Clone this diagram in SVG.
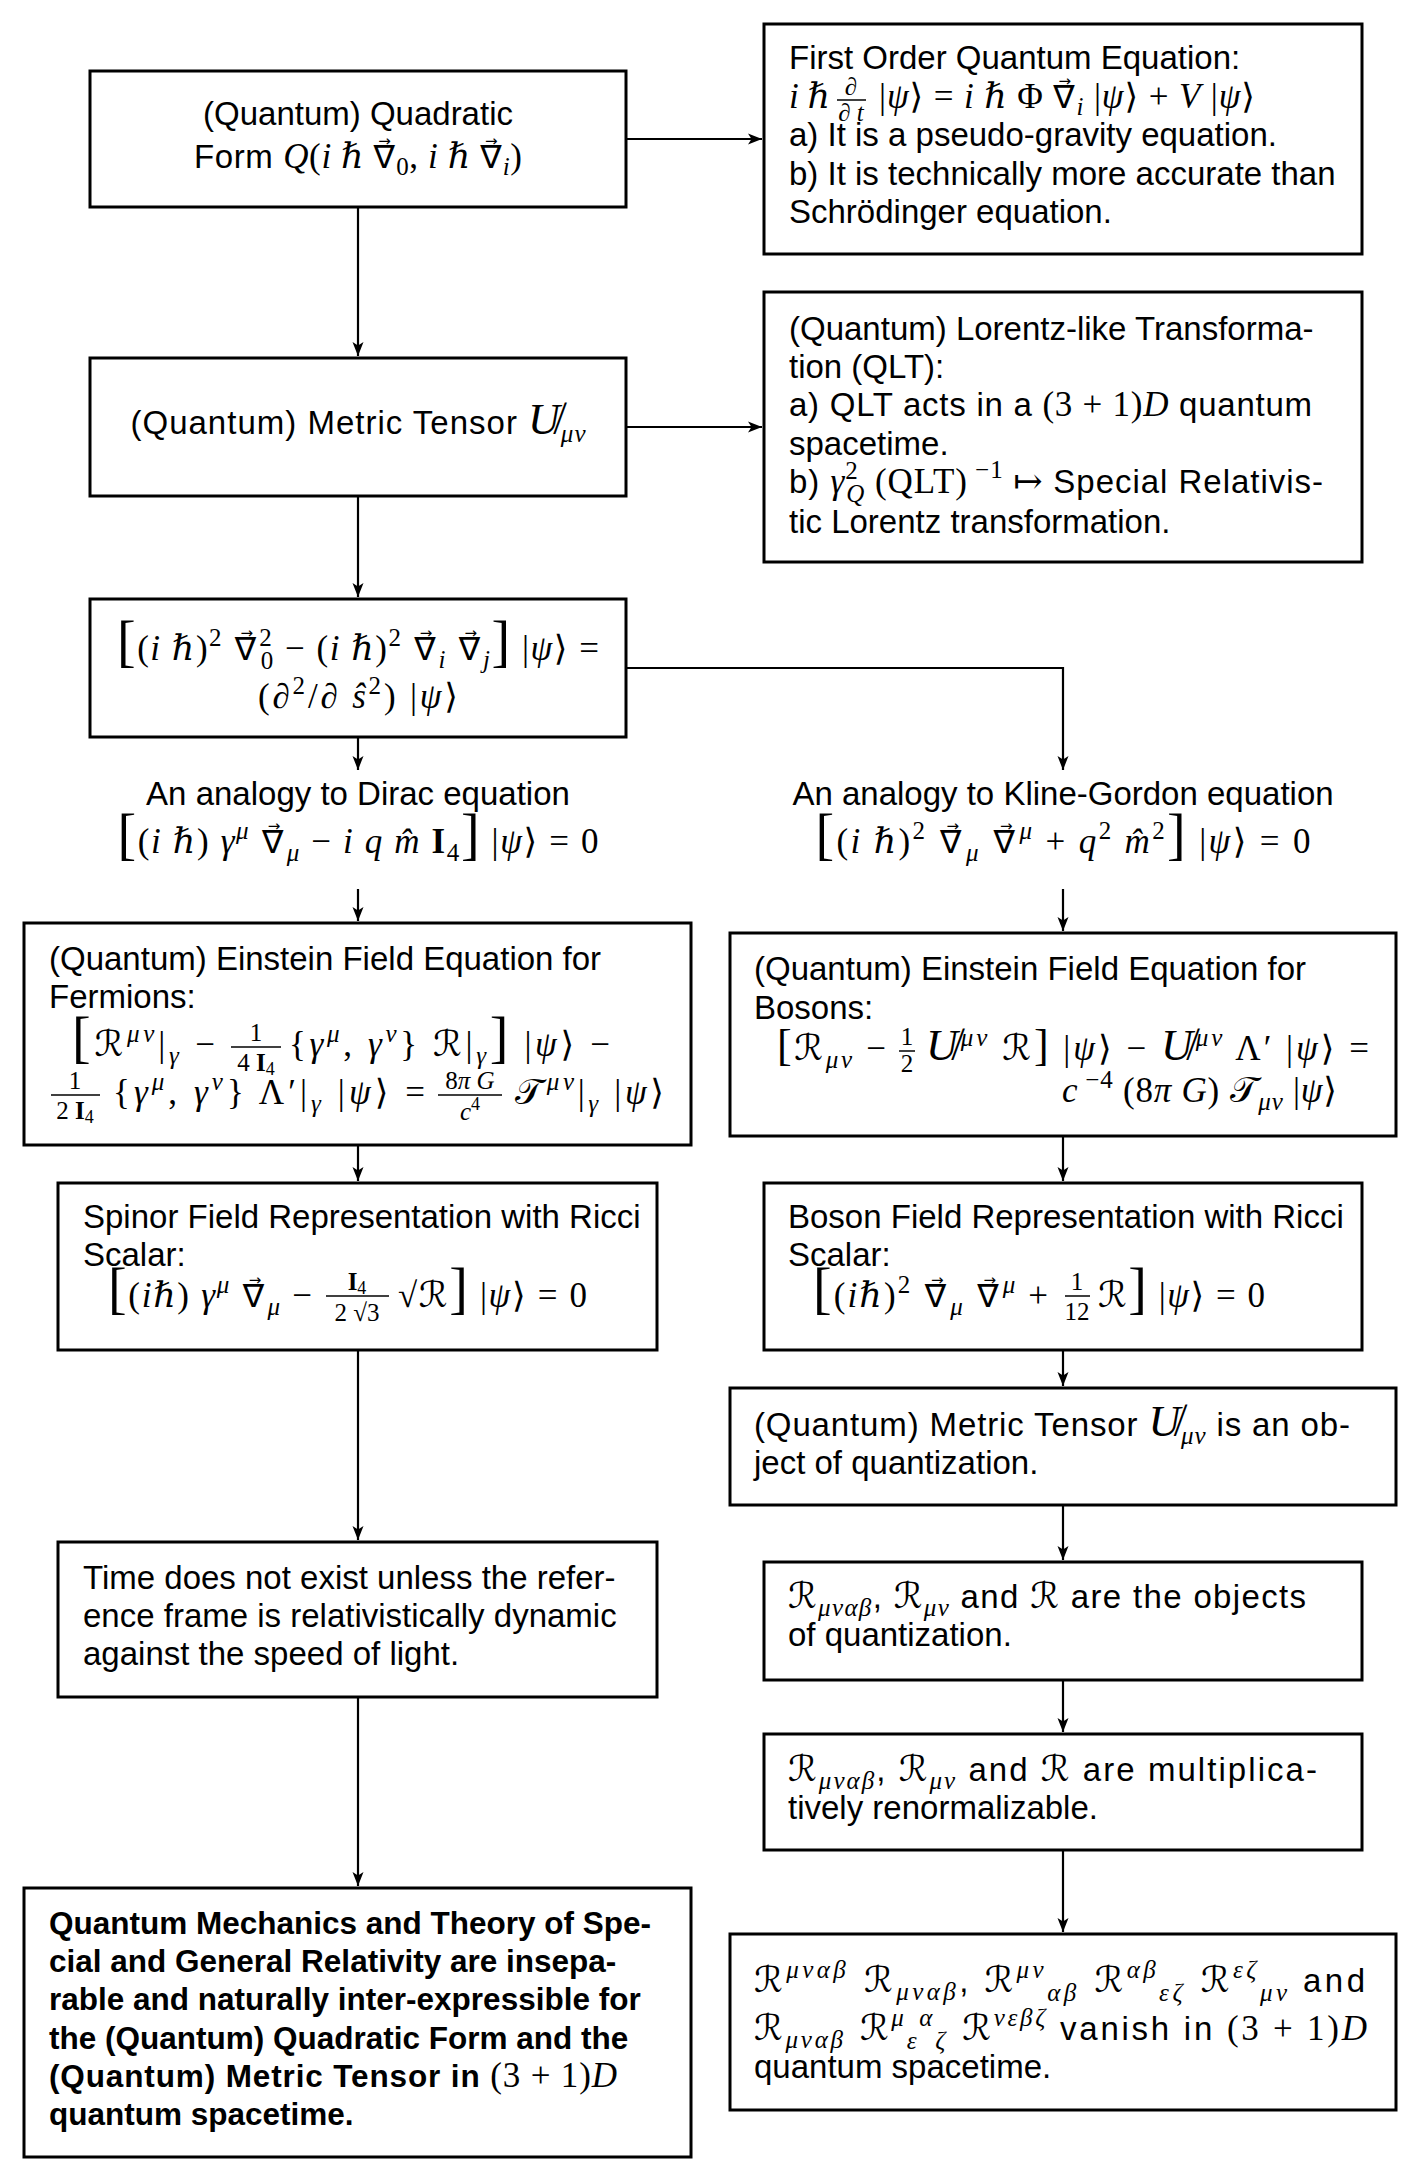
<svg xmlns="http://www.w3.org/2000/svg" width="1417" height="2179" viewBox="0 0 1417 2179">
<defs>
<marker id="ah" markerUnits="userSpaceOnUse" markerWidth="16" markerHeight="12" refX="14" refY="6" orient="auto">
<path d="M0,0.5 L14,6 L0,11.5 L3.5,6 z" fill="#000"/>
</marker>
<style>
text { fill:#000; }
.s { font-family:"Liberation Sans", Arial, sans-serif; font-size:33px; }
.bd { font-family:"Liberation Sans", Arial, sans-serif; font-size:31.5px; font-weight:bold; }
.m { font-family:"Liberation Serif", "DejaVu Serif", serif; font-size:35px; font-style:normal; font-weight:normal; }
.i { font-style:italic; }
.sc { font-size:25px; }
.ss { font-size:18px; }
.bf { font-weight:bold; }
.big { font-size:56px; }
.mid { font-size:44px; }
.cal { font-family:"DejaVu Serif", "DejaVu Sans", serif; font-style:normal; font-size:36px; }
.nab { font-family:"DejaVu Sans", sans-serif; font-style:normal; font-size:32px; }
.arr { font-family:"DejaVu Sans", sans-serif; font-style:normal; font-weight:normal; font-size:15px; }
.box { fill:#fff; stroke:#000; stroke-width:3; }
.cn { fill:none; stroke:#000; stroke-width:2.2; }
.bar { stroke:#000; stroke-width:1.5; }
</style>
</defs>
<rect width="1417" height="2179" fill="#fff"/>

<g id="connectors">
<line class="cn" x1="626" y1="139" x2="762" y2="139" marker-end="url(#ah)"/>
<line class="cn" x1="358" y1="207" x2="358" y2="356" marker-end="url(#ah)"/>
<line class="cn" x1="626" y1="427" x2="762" y2="427" marker-end="url(#ah)"/>
<line class="cn" x1="358" y1="496" x2="358" y2="597" marker-end="url(#ah)"/>
<line class="cn" x1="358" y1="737" x2="358" y2="770" marker-end="url(#ah)"/>
<path class="cn" d="M626,668 H1063 V770" marker-end="url(#ah)"/>
<line class="cn" x1="358" y1="889" x2="358" y2="921" marker-end="url(#ah)"/>
<line class="cn" x1="1063" y1="889" x2="1063" y2="931" marker-end="url(#ah)"/>
<line class="cn" x1="358" y1="1145" x2="358" y2="1181" marker-end="url(#ah)"/>
<line class="cn" x1="1063" y1="1136" x2="1063" y2="1181" marker-end="url(#ah)"/>
<line class="cn" x1="358" y1="1350" x2="358" y2="1540" marker-end="url(#ah)"/>
<line class="cn" x1="1063" y1="1350" x2="1063" y2="1386" marker-end="url(#ah)"/>
<line class="cn" x1="1063" y1="1505" x2="1063" y2="1560" marker-end="url(#ah)"/>
<line class="cn" x1="1063" y1="1680" x2="1063" y2="1732" marker-end="url(#ah)"/>
<line class="cn" x1="358" y1="1697" x2="358" y2="1886" marker-end="url(#ah)"/>
<line class="cn" x1="1063" y1="1850" x2="1063" y2="1932" marker-end="url(#ah)"/>
</g>

<g id="quadratic-form">
<rect class="box" x="90" y="71" width="536" height="136"/>
<text class="s" x="358" y="125" text-anchor="middle">(Quantum) Quadratic</text>
<text class="s" x="358" y="168" text-anchor="middle" textLength="328">Form <tspan class="m i">Q</tspan><tspan class="m">(</tspan><tspan class="m i">i ℏ </tspan><tspan class="nab">∇</tspan><tspan class="arr" dx="-17.25" dy="-22">→</tspan><tspan class="m sc" dx="4.65" dy="29">0</tspan><tspan class="m" dy="-7">, </tspan><tspan class="m i">i ℏ </tspan><tspan class="nab">∇</tspan><tspan class="arr" dx="-17.25" dy="-22">→</tspan><tspan class="m i sc" dx="4.65" dy="29">i</tspan><tspan class="m" dy="-7">)</tspan></text>
</g>

<g id="first-order">
<rect class="box" x="764" y="24" width="598" height="230"/>
<text class="s" x="789" y="69">First Order Quantum Equation:</text>
<text class="m i" x="789" y="108">i ℏ</text>
<text class="m i sc" x="851" y="95" text-anchor="middle">∂</text>
<line class="bar" x1="837" y1="100" x2="866" y2="100"/>
<text class="m i sc" x="851" y="121" text-anchor="middle">∂ t</text>
<text class="m" x="879" y="108" textLength="376">|<tspan class="i">ψ</tspan>⟩ = <tspan class="i">i ℏ</tspan> Φ <tspan class="nab">∇</tspan><tspan class="arr" dx="-17.25" dy="-22">→</tspan><tspan class="i sc" dx="4.65" dy="29">i</tspan><tspan dy="-7"> |</tspan><tspan class="i">ψ</tspan>⟩ + <tspan class="i">V</tspan> |<tspan class="i">ψ</tspan>⟩</text>
<text class="s" x="789" y="146">a) It is a pseudo-gravity equation.</text>
<text class="s" x="789" y="185">b) It is technically more accurate than</text>
<text class="s" x="789" y="223">Schrödinger equation.</text>
</g>

<g id="metric-tensor">
<rect class="box" x="90" y="358" width="536" height="138"/>
<text class="s" x="358" y="434" text-anchor="middle" textLength="455">(Quantum) Metric Tensor <tspan class="m i mid">U&#x338;</tspan><tspan class="m i sc" dy="8">μν</tspan></text>
</g>

<g id="lorentz">
<rect class="box" x="764" y="292" width="598" height="270"/>
<text class="s" x="789" y="340">(Quantum) Lorentz-like Transforma-</text>
<text class="s" x="789" y="378">tion (QLT):</text>
<text class="s" x="789" y="416" textLength="523">a) QLT acts in a <tspan class="m">(3 + 1)</tspan><tspan class="m i">D</tspan> quantum</text>
<text class="s" x="789" y="455">spacetime.</text>
<text class="s" x="789" y="493" textLength="534">b) <tspan class="m i">γ</tspan><tspan class="m sc" dy="-14">2</tspan><tspan class="m i sc" dx="-12.5" dy="23">Q</tspan><tspan class="m" dy="-9"> (QLT)</tspan><tspan class="m sc" dy="-15"> −1</tspan><tspan class="m" dy="15"> ↦ </tspan>Special Relativis-</text>
<text class="s" x="789" y="533">tic Lorentz transformation.</text>
</g>

<g id="quadratic-equation">
<rect class="box" x="90" y="599" width="536" height="138"/>
<text class="m" x="358" y="660" text-anchor="middle" textLength="482"><tspan class="big">[</tspan>(<tspan class="i">i ℏ</tspan>)<tspan class="sc" dy="-14">2</tspan><tspan class="nab" dy="14"> ∇</tspan><tspan class="arr" dx="-17.25" dy="-22">→</tspan><tspan class="sc" dx="4.65" dy="8">2</tspan><tspan class="sc" dx="-12.5" dy="23">0</tspan><tspan dy="-9"> − (</tspan><tspan class="i">i ℏ</tspan>)<tspan class="sc" dy="-14">2</tspan><tspan class="nab" dy="14"> ∇</tspan><tspan class="arr" dx="-17.25" dy="-22">→</tspan><tspan class="i sc" dx="4.65" dy="30">i</tspan><tspan class="nab" dy="-8"> ∇</tspan><tspan class="arr" dx="-17.25" dy="-22">→</tspan><tspan class="i sc" dx="4.65" dy="30">j</tspan><tspan class="big" dy="-8">]</tspan> |<tspan class="i">ψ</tspan>⟩ =</text>
<text class="m" x="358" y="708" text-anchor="middle" textLength="200">(∂<tspan class="sc" dy="-14">2</tspan><tspan dy="14">/∂ </tspan><tspan class="i">s&#x302;</tspan><tspan class="sc" dy="-14">2</tspan><tspan dy="14">) |</tspan><tspan class="i">ψ</tspan>⟩</text>
</g>

<g id="dirac-analogy">
<text class="s" x="358" y="805" text-anchor="middle">An analogy to Dirac equation</text>
<text class="m" x="358" y="853" text-anchor="middle" textLength="481"><tspan class="big">[</tspan>(<tspan class="i">i ℏ</tspan>) <tspan class="i">γ</tspan><tspan class="i sc" dy="-14">μ</tspan><tspan class="nab" dy="14"> ∇</tspan><tspan class="arr" dx="-17.25" dy="-22">→</tspan><tspan class="i sc" dx="4.65" dy="30">μ</tspan><tspan dy="-8"> − </tspan><tspan class="i">i q m&#x302; </tspan><tspan class="bf">I</tspan><tspan class="sc" dy="8">4</tspan><tspan class="big" dy="-8">]</tspan> |<tspan class="i">ψ</tspan>⟩ = 0</text>
</g>

<g id="kg-analogy">
<text class="s" x="1063" y="805" text-anchor="middle">An analogy to Kline-Gordon equation</text>
<text class="m" x="1063" y="853" text-anchor="middle" textLength="495"><tspan class="big">[</tspan>(<tspan class="i">i ℏ</tspan>)<tspan class="sc" dy="-14">2</tspan><tspan class="nab" dy="14"> ∇</tspan><tspan class="arr" dx="-17.25" dy="-22">→</tspan><tspan class="i sc" dx="4.65" dy="30">μ</tspan><tspan class="nab" dy="-8"> ∇</tspan><tspan class="arr" dx="-17.25" dy="-22">→</tspan><tspan class="i sc" dx="4.65" dy="8">μ</tspan><tspan dy="14"> + </tspan><tspan class="i">q</tspan><tspan class="sc" dy="-14">2</tspan><tspan class="i" dy="14"> m&#x302;</tspan><tspan class="sc" dy="-14">2</tspan><tspan class="big" dy="14">]</tspan> |<tspan class="i">ψ</tspan>⟩ = 0</text>
</g>

<g id="efe-fermions">
<rect class="box" x="24" y="923" width="667" height="222"/>
<text class="s" x="49" y="970">(Quantum) Einstein Field Equation for</text>
<text class="s" x="49" y="1008">Fermions:</text>
<text class="m" x="72" y="1056" textLength="143"><tspan class="big">[</tspan><tspan class="cal">ℛ</tspan><tspan class="i sc" dy="-14">μν</tspan><tspan dy="14">|</tspan><tspan class="i sc" dy="8">γ</tspan><tspan dy="-8"> −</tspan></text>
<text class="m sc" x="256" y="1041" text-anchor="middle">1</text>
<line class="bar" x1="231" y1="1047" x2="281" y2="1047"/>
<text class="m sc" x="256" y="1071" text-anchor="middle">4 <tspan class="bf">I</tspan><tspan class="ss" dy="4">4</tspan></text>
<text class="m" x="289" y="1056" textLength="321">{<tspan class="i">γ</tspan><tspan class="i sc" dy="-14">μ</tspan><tspan dy="14">, </tspan><tspan class="i">γ</tspan><tspan class="i sc" dy="-14">ν</tspan><tspan dy="14">} </tspan><tspan class="cal">ℛ</tspan>|<tspan class="i sc" dy="8">γ</tspan><tspan class="big" dy="-8">]</tspan> |<tspan class="i">ψ</tspan>⟩ −</text>
<text class="m sc" x="75" y="1089" text-anchor="middle">1</text>
<line class="bar" x1="51" y1="1095" x2="100" y2="1095"/>
<text class="m sc" x="75" y="1119" text-anchor="middle">2 <tspan class="bf">I</tspan><tspan class="ss" dy="4">4</tspan></text>
<text class="m" x="113" y="1104" textLength="312">{<tspan class="i">γ</tspan><tspan class="i sc" dy="-14">μ</tspan><tspan dy="14">, </tspan><tspan class="i">γ</tspan><tspan class="i sc" dy="-14">ν</tspan><tspan dy="14">} Λ′|</tspan><tspan class="i sc" dy="8">γ</tspan><tspan dy="-8"> |</tspan><tspan class="i">ψ</tspan>⟩ =</text>
<text class="m sc" x="470" y="1089" text-anchor="middle">8<tspan class="i">π G</tspan></text>
<line class="bar" x1="438" y1="1095" x2="502" y2="1095"/>
<text class="m sc" x="470" y="1120" text-anchor="middle"><tspan class="i">c</tspan><tspan class="ss" dy="-10">4</tspan></text>
<text class="m" x="515" y="1104" textLength="149"><tspan class="cal">𝒯</tspan><tspan class="i sc" dy="-14">μν</tspan><tspan dy="14">|</tspan><tspan class="i sc" dy="8">γ</tspan><tspan dy="-8"> |</tspan><tspan class="i">ψ</tspan>⟩</text>
</g>

<g id="efe-bosons">
<rect class="box" x="730" y="933" width="666" height="203"/>
<text class="s" x="754" y="980">(Quantum) Einstein Field Equation for</text>
<text class="s" x="754" y="1019">Bosons:</text>
<text class="m" x="777" y="1060" textLength="109"><tspan class="mid">[</tspan><tspan class="cal">ℛ</tspan><tspan class="i sc" dy="8">μν</tspan><tspan dy="-8"> −</tspan></text>
<text class="m sc" x="907" y="1045" text-anchor="middle">1</text>
<line class="bar" x1="899" y1="1051" x2="915" y2="1051"/>
<text class="m sc" x="907" y="1072" text-anchor="middle">2</text>
<text class="m" x="926" y="1060" textLength="443"><tspan class="i mid">U&#x338;</tspan><tspan class="i sc" dy="-14">μν</tspan><tspan dy="14"> </tspan><tspan class="cal">ℛ</tspan><tspan class="mid">]</tspan> |<tspan class="i">ψ</tspan>⟩ − <tspan class="i mid">U&#x338;</tspan><tspan class="i sc" dy="-14">μν</tspan><tspan dy="14"> Λ′ |</tspan><tspan class="i">ψ</tspan>⟩ =</text>
<text class="m" x="1062" y="1102" textLength="275"><tspan class="i">c</tspan><tspan class="sc" dy="-14"> −4</tspan><tspan dy="14"> (8</tspan><tspan class="i">π G</tspan>) <tspan class="cal">𝒯</tspan><tspan class="i sc" dy="8">μν</tspan><tspan dy="-8"> |</tspan><tspan class="i">ψ</tspan>⟩</text>
</g>

<g id="spinor-field">
<rect class="box" x="58" y="1183" width="599" height="167"/>
<text class="s" x="83" y="1228">Spinor Field Representation with Ricci</text>
<text class="s" x="83" y="1266">Scalar:</text>
<text class="m" x="108" y="1307" textLength="204"><tspan class="big">[</tspan>(<tspan class="i">iℏ</tspan>) <tspan class="i">γ</tspan><tspan class="i sc" dy="-14">μ</tspan><tspan class="nab" dy="14"> ∇</tspan><tspan class="arr" dx="-17.25" dy="-22">→</tspan><tspan class="i sc" dx="4.65" dy="30">μ</tspan><tspan dy="-8"> −</tspan></text>
<text class="m sc" x="357" y="1290" text-anchor="middle"><tspan class="bf">I</tspan><tspan class="ss" dy="4">4</tspan></text>
<line class="bar" x1="326" y1="1296" x2="389" y2="1296"/>
<text class="m sc" x="357" y="1321" text-anchor="middle">2 √3</text>
<text class="m" x="398" y="1307" textLength="189">√<tspan class="cal">ℛ</tspan><tspan class="big">]</tspan> |<tspan class="i">ψ</tspan>⟩ = 0</text>
</g>

<g id="boson-field">
<rect class="box" x="764" y="1183" width="598" height="167"/>
<text class="s" x="788" y="1228">Boson Field Representation with Ricci</text>
<text class="s" x="788" y="1266">Scalar:</text>
<text class="m" x="813" y="1307" textLength="235"><tspan class="big">[</tspan>(<tspan class="i">iℏ</tspan>)<tspan class="sc" dy="-14">2</tspan><tspan class="nab" dy="14"> ∇</tspan><tspan class="arr" dx="-17.25" dy="-22">→</tspan><tspan class="i sc" dx="4.65" dy="30">μ</tspan><tspan class="nab" dy="-8"> ∇</tspan><tspan class="arr" dx="-17.25" dy="-22">→</tspan><tspan class="i sc" dx="4.65" dy="8">μ</tspan><tspan dy="14"> +</tspan></text>
<text class="m sc" x="1077" y="1290" text-anchor="middle">1</text>
<line class="bar" x1="1065" y1="1296" x2="1090" y2="1296"/>
<text class="m sc" x="1077" y="1320" text-anchor="middle">12</text>
<text class="m" x="1098" y="1307" textLength="167"><tspan class="cal">ℛ</tspan><tspan class="big">]</tspan> |<tspan class="i">ψ</tspan>⟩ = 0</text>
</g>

<g id="metric-quantization">
<rect class="box" x="730" y="1388" width="666" height="117"/>
<text class="s" x="754" y="1436" textLength="596">(Quantum) Metric Tensor <tspan class="m i mid">U&#x338;</tspan><tspan class="m i sc" dy="8">μν</tspan><tspan dy="-8"> is an ob-</tspan></text>
<text class="s" x="754" y="1474">ject of quantization.</text>
</g>

<g id="riemann-objects">
<rect class="box" x="764" y="1562" width="598" height="118"/>
<text class="s" x="788" y="1608" textLength="518"><tspan class="m cal">ℛ</tspan><tspan class="m i sc" dy="8">μναβ</tspan><tspan dy="-8">, </tspan><tspan class="m cal">ℛ</tspan><tspan class="m i sc" dy="8">μν</tspan><tspan dy="-8"> and </tspan><tspan class="m cal">ℛ</tspan> are the objects</text>
<text class="s" x="788" y="1646">of quantization.</text>
</g>

<g id="time">
<rect class="box" x="58" y="1542" width="599" height="155"/>
<text class="s" x="83" y="1589">Time does not exist unless the refer-</text>
<text class="s" x="83" y="1627">ence frame is relativistically dynamic</text>
<text class="s" x="83" y="1665">against the speed of light.</text>
</g>

<g id="renormalizable">
<rect class="box" x="764" y="1734" width="598" height="116"/>
<text class="s" x="788" y="1781" textLength="529"><tspan class="m cal">ℛ</tspan><tspan class="m i sc" dy="8">μναβ</tspan><tspan dy="-8">, </tspan><tspan class="m cal">ℛ</tspan><tspan class="m i sc" dy="8">μν</tspan><tspan dy="-8"> and </tspan><tspan class="m cal">ℛ</tspan> are multiplica-</text>
<text class="s" x="788" y="1819">tively renormalizable.</text>
</g>

<g id="conclusion">
<rect class="box" x="24" y="1888" width="667" height="269"/>
<text class="bd" x="49" y="1934">Quantum Mechanics and Theory of Spe-</text>
<text class="bd" x="49" y="1972">cial and General Relativity are insepa-</text>
<text class="bd" x="49" y="2010">rable and naturally inter-expressible for</text>
<text class="bd" x="49" y="2049">the (Quantum) Quadratic Form and the</text>
<text class="bd" x="49" y="2087" textLength="568">(Quantum) Metric Tensor in <tspan class="m">(3 + 1)</tspan><tspan class="m i">D</tspan></text>
<text class="bd" x="49" y="2125">quantum spacetime.</text>
</g>

<g id="vanish">
<rect class="box" x="730" y="1934" width="666" height="176"/>
<text class="s" x="754" y="1992" textLength="611"><tspan class="m cal">ℛ</tspan><tspan class="m i sc" dy="-14">μναβ</tspan><tspan class="m cal" dy="14"> ℛ</tspan><tspan class="m i sc" dy="8">μναβ</tspan><tspan dy="-8">, </tspan><tspan class="m cal">ℛ</tspan><tspan class="m i sc" dy="-14">μν</tspan><tspan class="m i sc" dy="23">αβ</tspan><tspan class="m cal" dy="-9"> ℛ</tspan><tspan class="m i sc" dy="-14">αβ</tspan><tspan class="m i sc" dy="23">εζ</tspan><tspan class="m cal" dy="-9"> ℛ</tspan><tspan class="m i sc" dy="-14">εζ</tspan><tspan class="m i sc" dy="23">μν</tspan><tspan dy="-9"> and</tspan></text>
<text class="s" x="754" y="2040" textLength="613"><tspan class="m cal">ℛ</tspan><tspan class="m i sc" dy="8">μναβ</tspan><tspan class="m cal" dy="-8"> ℛ</tspan><tspan class="m i sc" dy="-14">μ</tspan><tspan class="m i sc" dy="23">ε</tspan><tspan class="m i sc" dy="-23">α</tspan><tspan class="m i sc" dy="23">ζ</tspan><tspan class="m cal" dy="-9"> ℛ</tspan><tspan class="m i sc" dy="-14">νεβζ</tspan><tspan dy="14"> vanish in </tspan><tspan class="m">(3 + 1)</tspan><tspan class="m i">D</tspan></text>
<text class="s" x="754" y="2078">quantum spacetime.</text>
</g>
</svg>
